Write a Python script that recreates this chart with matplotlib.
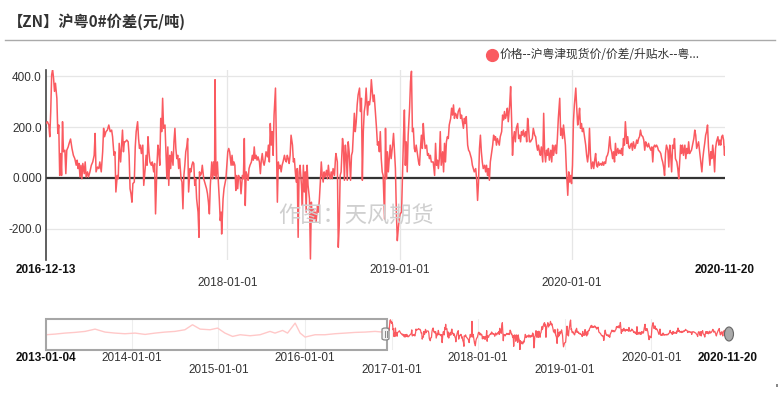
import numpy as np
import pandas as pd
import matplotlib
matplotlib.use("Agg")
import matplotlib.pyplot as plt
from matplotlib.lines import Line2D
from matplotlib.patches import Rectangle, FancyBboxPatch, Ellipse

# ---------------- data ----------------
main_start = "2016-12-13"
main_end = "2020-11-20"
early_start = "2013-01-04"

# day offsets from main_start, values (yuan/ton)
days_a = [0,3,6,8,10,12,14,16,18,20,23,25,27,29,31,33,35,37,40,42,44,47,49,52,55,58,61,64,66,68,
          70,72,74,76,78,81,83,85,88,90,93,96,99,102,104,106,109,112,114,117,120,122,124,127,130,133,136,139,141,144,
          146,148,151,153,155,158,160,162,164,166,168,171,174,176,178,180,182,184,187,189,191,194,196,198,200,202,205,207]
vals_a = [214,221,208,162,260,405,426,392,340,372,313,175,208,10,96,10,221,103,109,17,109,122,136,153,116,89,76,50,70,37,
          57,4,50,-3,57,17,63,4,24,4,24,50,63,89,175,24,43,37,63,24,103,195,162,182,188,208,182,188,162,89,
          103,-55,10,-3,136,63,129,188,103,142,142,149,142,89,-42,-62,-95,-22,-16,122,182,221,155,116,129,96,129,-29]

days_b = [210,212,214,216,218,220,223,225,228,230,232,235,237,239,241,243,245,247,249,252,
          254,256,258,260,262,264,266,269,271,273,275,277,279,281,283,286,288,290,292,294,
          296,298,300,302,305,307,309,311,313,315,317,319,322,324,325,327,329,331,334,336,
          338,340,342,344,346,348,351,353,355,357,358,360,363,365,367,369,371,372,375,377,
          379,381,383,385,387,389,392,394,396,398,400,402,404,406,408,411]
vals_b = [37,89,50,162,103,63,50,63,24,57,-141,50,129,103,50,234,182,313,195,208,
          103,-3,122,-29,89,37,103,50,142,195,116,76,89,37,76,-3,-16,-121,10,50,
          103,122,155,-55,37,24,50,63,57,-29,-3,-82,-134,-233,24,10,17,50,-3,-16,
          -29,-42,-62,-95,-141,-29,63,-3,63,10,386,-3,63,-16,-82,-167,-134,-220,-82,-42,
          -22,-3,50,103,116,103,50,89,50,63,50,-49,10,-42,10,-3]

days_c = [413,416,418,420,422,424,426,428,430,432,435,437,439,441,443,445,447,449,452,454,
          456,458,460,462,464,466,469,471,473,475,477,479,481,483,486,488,490,492,494,496,
          498,500,502,505,507,509,511,513,515,517,519,522,524,526,528,530,532,534,536,538,
          541,543,545,547,549,551,553,555,558,560,562,564,566,568,570,572,575,577,579,581,
          583,585,587,589,591,594,596,598,600,602,604,606,608,611,613,614]
vals_c = [-62,10,-3,155,-108,24,10,-9,37,50,63,89,70,122,76,89,70,83,63,17,
          70,96,63,50,70,103,83,129,63,214,129,182,89,247,353,116,-95,63,37,50,
          24,50,63,89,70,63,89,76,57,89,168,129,63,76,24,-16,37,-233,24,50,
          -29,-108,50,-55,24,-134,50,-29,-82,-318,-95,-174,-121,-161,-134,-174,-108,-134,-82,-16,
          63,10,-16,24,4,30,-3,50,10,-3,24,-3,37,10,76,96]

days_d = [617,619,621,623,625,628,630,632,634,636,638,640,642,645,647,649,651,653,655,657,
          659,661,664,666,668,670,672,674,676,678,681,683,685,687,689,691,693,695,698,700,
          702,704,706,708,710,712,714,717,719,721,723,725,727,729,731,734,736,738,740,742,
          744,746,748,750,753,755,757,759,761,763,765,767,770,772,774,776,778,780,782,784,
          787,789,791,793,795,797,799,801,803,806,808,810,812,814,816,818]
vals_d = [63,-272,-187,10,24,155,116,-9,129,89,-9,142,103,-9,89,103,182,254,182,221,
          287,326,353,261,313,-9,182,261,287,353,247,300,287,313,386,340,300,326,247,195,
          129,142,103,182,76,24,10,-161,195,-3,103,24,76,129,76,129,175,103,37,-134,
          -246,-200,-161,-141,-134,10,155,267,50,142,24,168,274,379,419,182,195,116,103,129,
          89,63,50,116,168,116,214,155,116,129,89,96,76,89,63,63]

days_e = [820,823,825,827,829,831,833,835,837,840,842,844,846,848,850,852,854,857,859,861,
          863,865,867,869,871,873,876,878,880,882,884,886,888,890,893,895,897,899,901,903,
          905,907,910,912,914,916,918,920,922,924,926,929,931,933,935,937,939,941,943,946,
          948,950,952,954,956,958,960,962,965,967,969,971,973,975,977,979,982,984,986,988,
          990,992,994,996,999,1001,1003,1005,1007,1009,1011,1013,1016,1018,1020,1021]
vals_e = [63,10,136,50,70,37,76,182,50,103,24,136,63,142,162,155,208,234,274,247,
          287,234,254,247,234,261,274,234,247,221,195,234,214,241,129,109,103,89,76,50,
          37,24,37,-3,-88,-16,116,168,103,63,37,50,24,50,10,37,-9,63,89,129,
          168,149,162,129,155,142,129,162,182,247,228,261,234,247,274,221,287,359,234,89,
          155,182,142,195,214,155,168,142,182,168,188,162,182,142,234,221]

days_f = [1024,1026,1028,1030,1032,1035,1037,1039,1041,1043,1045,1047,1049,1052,1054,1056,1058,1060,1062,1064,
          1066,1069,1071,1073,1075,1077,1079,1081,1083,1085,1088,1090,1092,1094,1096,1098,1100,1102,1105,1107,
          1109,1111,1113,1115,1117,1119,1122,1124,1126,1128,1130,1132,1134,1136,1138,1141,1143,1145,1147,1149,
          1151,1153,1155,1158,1160,1162,1164,1166,1168,1170,1172,1175,1177,1179,1181,1183,1185,1187,1189,1191,
          1194,1196,1198,1200,1202,1204,1206,1208,1211,1213,1215,1217,1219,1221,1223,1225]
vals_f = [142,142,149,155,195,168,162,129,109,129,103,89,122,63,254,103,63,109,89,116,
          70,109,63,129,89,116,129,96,155,234,313,168,195,155,208,168,129,37,-68,24,
          -16,10,-22,50,221,287,353,274,208,234,274,195,214,182,195,155,129,89,63,96,
          195,89,37,63,37,70,96,50,43,63,50,57,50,63,50,63,57,83,89,103,
          162,116,103,76,103,63,136,89,116,96,109,96,116,89,155,129]

days_g = [1227,1230,1232,1234,1236,1238,1240,1242,1244,1247,1249,1251,1253,1255,1257,1259,1261,1264,1266,1268,
          1270,1272,1274,1276,1278,1281,1283,1285,1287,1289,1291,1293,1295,1297,1300,1302,1304,1306,1308,1310,
          1312,1314,1317,1319,1321,1323,1325,1327,1329,1331,1333,1336,1338,1340,1342,1344,1346,1348,1350,1353,
          1355,1357,1359,1361,1363,1365,1367,1370,1372,1374,1376,1378,1380,1382,1384,1387,1389,1391,1393,1395,
          1397,1399,1401,1403,1406,1408,1410,1412,1414,1416,1418,1420,1423,1425,1427,1429,1431,1433,1435,1437,1438]
vals_g = [221,136,162,122,116,129,136,109,142,116,129,149,136,155,162,188,168,162,149,109,
          142,129,122,136,122,109,122,63,122,129,122,129,122,109,103,96,76,63,43,10,
          96,129,109,43,129,89,24,129,116,155,76,63,37,-3,63,129,96,129,89,129,
          76,116,96,142,96,103,109,136,155,188,168,116,129,142,109,63,24,76,109,136,
          168,182,208,122,50,103,76,129,89,24,116,142,162,129,149,129,162,168,149,89,122]

# earlier history (navigator only), day offsets from early_start
early_days = [0,38,80,122,165,207,249,291,333,376,418,460,502,544,586,618,650,692,724,755,
              787,819,861,903,945,966,998,1019,1051,1072,1093,1135,1177,1219,1262,1304,1346,1388,1420,1439]
early_vals = [54,70,95,112,137,194,120,95,79,95,62,95,120,137,178,302,194,178,219,95,
              12,54,29,54,137,95,161,95,343,95,-4,54,54,79,95,112,120,137,120,214]

y_ticks = [400, 200, 0, -200]
y_tick_labels = ["400.0", "200.0", "0.000", "-200.0"]
main_tick_dates = ["2016-12-13", "2018-01-01", "2019-01-01", "2020-01-01", "2020-11-20"]
main_tick_rows = [0, 1, 0, 1, 0]
nav_tick_dates = ["2013-01-04", "2014-01-01", "2015-01-01", "2016-01-01", "2017-01-01",
                  "2018-01-01", "2019-01-01", "2020-01-01", "2020-11-20"]
nav_tick_rows = [0, 0, 1, 0, 1, 0, 1, 0, 0]

title = "【ZN】沪粤0#价差(元/吨)"
legend_label = "价格--沪粤津现货价/价差/升贴水--粤..."
watermark = "作图：天风期货"

# ---------------- build ----------------
main_days = days_a + days_b + days_c + days_d + days_e + days_f + days_g
main_vals = vals_a + vals_b + vals_c + vals_d + vals_e + vals_f + vals_g
main_dates = pd.Timestamp(main_start) + pd.to_timedelta(main_days, unit="D")
early_dates = pd.Timestamp(early_start) + pd.to_timedelta(early_days, unit="D")

RED = "#fa5a60"
PINK = "#ffc8c8"
TXT = "#333333"
NUM = ["Liberation Sans", "DejaVu Sans"]
CJK = ["Noto Sans CJK SC", "DejaVu Sans"]

W, H = 780, 395
fig = plt.figure(figsize=(W / 100, H / 100), dpi=100)
fig.patch.set_facecolor("white")

def fx(p):
    return p / W

def fy(p):
    return 1 - p / H

# header
fig.text(fx(8), fy(22), title, fontsize=11, fontweight="bold", family=CJK,
         color=TXT, va="center", ha="left")
fig.add_artist(Line2D([fx(5), fx(775)], [fy(40), fy(40)], color="#aaaaaa", lw=1.0))

# legend
fig.add_artist(Line2D([fx(492)], [fy(55)], marker="o", ms=8.5, color=RED, lw=0))
fig.text(fx(500), fy(55), legend_label, fontsize=8.5, family=CJK, color=TXT,
         va="center", ha="left")

# main axes
ax = fig.add_axes([fx(46), fy(260), fx(725) - fx(46), fy(70) - fy(260)])
ax.set_facecolor("white")
ax.set_xlim(pd.Timestamp(main_start), pd.Timestamp(main_end))
ax.set_ylim(-322, 424)
for s in ["top", "right", "bottom"]:
    ax.spines[s].set_visible(False)
ax.spines["left"].set_color("#444444")
ax.spines["left"].set_linewidth(1.2)

ax.set_yticks(y_ticks)
ax.set_yticklabels(y_tick_labels, fontsize=8.5, family=NUM, color=TXT)
ax.tick_params(axis="y", length=0, pad=3)
ax.yaxis.grid(True, color="#e6e6e6", lw=0.9)
ax.set_axisbelow(True)
ax.set_xticks([])

for d in main_tick_dates[1:-1]:
    ax.axvline(pd.Timestamp(d), color="#e6e6e6", lw=0.9, zorder=0)

ax.axhline(0, color="#333333", lw=1.6, zorder=2)

fig.text(fx(356), fy(216), watermark, fontsize=16, family=CJK, color="#cfcfcf",
         ha="center", va="center", zorder=0.5)

ax.plot(main_dates, main_vals, color=RED, lw=1.1, zorder=3)

for d, r in zip(main_tick_dates, main_tick_rows):
    bold = d in (main_tick_dates[0], main_tick_dates[-1])
    off = 7.3 if r == 0 else 16.6
    ax.annotate(d, xy=(pd.Timestamp(d), 0), xycoords=("data", "axes fraction"),
                xytext=(0, -off), textcoords="offset points", ha="center", va="center",
                fontsize=8.5, family=NUM, color="#111111" if bold else TXT,
                fontweight="bold" if bold else "normal", annotation_clip=False)

# navigator axes
nav = fig.add_axes([fx(46), fy(350), fx(728) - fx(46), fy(319) - fy(350)])
nav.set_xlim(pd.Timestamp(early_start), pd.Timestamp(main_end))
nav.set_ylim(-325, 445)
for s in nav.spines.values():
    s.set_visible(False)
nav.set_xticks([])
nav.set_yticks([])
for d in nav_tick_dates[1:-1]:
    nav.axvline(pd.Timestamp(d), color="#eeeeee", lw=0.8, zorder=0)

nav.plot(early_dates, early_vals, color=PINK, lw=1.0, zorder=2)
nav.plot(main_dates, main_vals, color=RED, lw=0.9, zorder=2)

# shaded (unselected) window outline
x0 = nav.transData.transform((matplotlib.dates.date2num(pd.Timestamp(early_start)), 0))[0]
nav.add_patch(Rectangle((pd.Timestamp(early_start), -325),
                        pd.Timestamp(main_start) - pd.Timestamp(early_start), 770,
                        fill=False, edgecolor="#a6a6a6", lw=1.5, zorder=3, clip_on=False))

# handles
fig.add_artist(FancyBboxPatch((fx(382), fy(340)), fx(7), fy(328) - fy(340),
                              boxstyle="round,pad=0,rounding_size=0.004",
                              facecolor="#f2f2f2", edgecolor="#888888", lw=0.9))
fig.add_artist(Line2D([fx(384.5), fx(384.5)], [fy(337), fy(331)], color="#888888", lw=0.7))
fig.add_artist(Line2D([fx(386.5), fx(386.5)], [fy(337), fy(331)], color="#888888", lw=0.7))
fig.add_artist(Ellipse((fx(729), fy(334)), fx(9), fy(327) - fy(341),
                       facecolor="#aaaaaa", edgecolor="#666666", lw=0.8))

for d, r in zip(nav_tick_dates, nav_tick_rows):
    bold = d in (nav_tick_dates[0], nav_tick_dates[-1])
    off = 5.9 if r == 0 else 14.5
    nav.annotate(d, xy=(pd.Timestamp(d), 0), xycoords=("data", "axes fraction"),
                 xytext=(0, -off), textcoords="offset points", ha="center", va="center",
                 fontsize=8.5, family=NUM, color="#111111" if bold else TXT,
                 fontweight="bold" if bold else "normal", annotation_clip=False)

fig.add_artist(Rectangle((fx(776), fy(387)), fx(2), fy(384) - fy(387), color="#888888", lw=0))

fig.savefig("out.png", dpi=100, facecolor="white")
